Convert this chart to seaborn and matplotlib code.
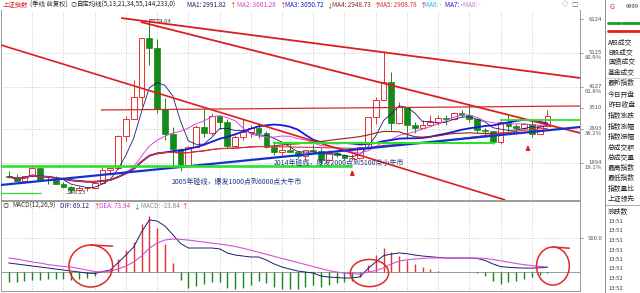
import numpy as np
import pandas as pd
import matplotlib
matplotlib.use("Agg")
import matplotlib.pyplot as plt
import seaborn as sns
from matplotlib.patches import Ellipse

sns.set_style("white")
plt.rcParams['font.family'] = ['Noto Sans CJK SC', 'DejaVu Sans']
plt.rcParams['axes.unicode_minus'] = False

# ---------------- data (quarterly, 2003Q2 .. 2020Q3) ----------------
quarters = [str(p) for p in pd.period_range('2003Q2', '2020Q3', freq='Q')]
open_ = [1510, 1487, 1367, 1497, 1742, 1399, 1396, 1266, 1181, 1080, 1155, 1161, 1299, 1672,
         1752, 2675, 3183, 3820, 5552, 5262, 3473, 2736, 2293, 1821, 2373, 2959, 2779, 3277,
         3109, 2398, 2656, 2808, 2928, 2762, 2359, 2199, 2262, 2225, 2086, 2269, 2237, 1979,
         2175, 2112, 2033, 2048, 2364, 3235, 3748, 4277, 3053, 3539, 3004, 2930, 3005, 3104,
         3223, 3192, 3349, 3307, 3169, 2847, 2821, 2494, 3091, 2979, 2905, 3050, 2750, 2985]
high = [1649, 1563, 1498, 1760, 1783, 1496, 1497, 1329, 1223, 1223, 1191, 1306, 1757, 1757,
        2698, 3274, 4335, 5562, 6124, 5522, 3786, 2953, 2334, 2402, 2997, 3478, 3361, 3306,
        3181, 2702, 3186, 3001, 3067, 2826, 2536, 2478, 2453, 2242, 2274, 2444, 2334, 2270,
        2259, 2146, 2146, 2366, 3239, 3835, 5178, 4572, 3684, 3539, 3097, 3141, 3301, 3301,
        3295, 3391, 3450, 3587, 3220, 2915, 2831, 3129, 3288, 3048, 3069, 3127, 3000, 3458]
low = [1453, 1358, 1307, 1497, 1386, 1259, 1259, 1164, 998, 1052, 1067, 1161, 1283, 1541,
       1720, 2541, 3183, 3563, 4778, 3358, 2566, 1802, 1664, 1814, 2353, 2639, 2712, 2890,
       2319, 2381, 2574, 2661, 2610, 2331, 2134, 2132, 2215, 2029, 1949, 2180, 1849, 1952,
       2079, 1975, 1991, 2023, 2291, 3049, 3747, 2850, 3023, 2638, 2781, 2932, 2990, 3016,
       3017, 3157, 3254, 3091, 2782, 2644, 2449, 2440, 2838, 2733, 2859, 2646, 2743, 2985]
close = [1487, 1367, 1497, 1742, 1399, 1396, 1266, 1181, 1080, 1155, 1161, 1299, 1672, 1752,
         2675, 3183, 3820, 5552, 5262, 3473, 2736, 2293, 1821, 2373, 2959, 2779, 3277, 3109,
         2398, 2656, 2808, 2928, 2762, 2359, 2199, 2262, 2225, 2086, 2269, 2237, 1979, 2175,
         2116, 2033, 2048, 2364, 3235, 3748, 4277, 3053, 3539, 3004, 2930, 3005, 3104, 3223,
         3192, 3349, 3307, 3169, 2847, 2821, 2494, 3091, 2979, 2905, 3050, 2750, 2985, 3269]
dif = [132, 118, 103, 88, 74, 59, 44, 29, 15, 0, -15, -22, 7, 29, 137, 250, 368, 588, 765, 750,
       676, 550, 420, 353, 353, 353, 353, 340, 279, 250, 235, 221, 221, 176, 118, 74, 44, 15, 0,
       -15, -59, -74, -81, -88, -88, -70, 51, 147, 240, 265, 280, 270, 250, 235, 225, 215, 205,
       205, 206, 206, 200, 170, 120, 80, 70, 62, 58, 58, 62, 69.12]
dea = [206, 191, 169, 147, 132, 110, 96, 81, 74, 51, 29, 7, 0, 15, 44, 88, 147, 235, 350, 426,
       471, 485, 480, 470, 455, 440, 425, 410, 395, 375, 350, 320, 290, 260, 230, 200, 170, 140,
       110, 80, 50, 20, 0, -15, -25, -30, 0, 20, 60, 120, 160, 180, 190, 200, 205, 207, 207,
       206, 206, 206, 205, 200, 185, 165, 145, 125, 108, 95, 82, 73.94]
ma_periods = [5, 13, 21, 34, 55]
price_ticks = [6124, 5125, 4127, 3510, 2893, 1894]
price_pcts = ['', '80.9%', '61.8%', '', '38.2%', '19.1%']

# user-drawn trend lines: (quarter index, price) endpoints
trend_lines = [
    ((14.4, 6153), (73.2, 4389), '#dc1e1e', 1.3),
    ((16.9, 6036), (73.2, 2771), '#dc1e1e', 1.3),
    ((-1.0, 5359), (63.6, 800), '#dc1e1e', 1.2),
    ((11.8, 3448), (73.2, 3565), '#d42a2a', 0.9),
    ((-1.0, 1242), (73.2, 2947), '#1530d0', 1.6),
    ((-1.0, 1800), (44.0, 1800), '#2ee02e', 1.9),
    ((-1.0, 1006), (4.1, 1006), '#2ee02e', 0.9),
    ((33.9, 2477), (62.3, 2477), '#2ee02e', 1.5),
    ((62.9, 3153), (73.2, 3153), '#2ee02e', 1.3),
]
arrows = [(44.0, 1624), (66.5, 2359)]
notes = [(20.9, 1330, '2005年碰线，爆发1000点到6000点大牛市'),
         (33.9, 1889, '2014年碰线，爆发2000点到5100点小牛市')]
circles = [(10.5, 88, 5.6, 618), (46.2, -15, 4.9, 400), (69.7, 88, 4.2, 560)]

# ---------------- figure ----------------
W, H = 640, 293
fig = plt.figure(figsize=(6.4, 2.93), dpi=100)
def fx(x): return x / W
def fy(y): return 1 - y / H

ax = fig.add_axes([fx(1), fy(200), fx(580) - fx(1), fy(10) - fy(200)])
axm = fig.add_axes([fx(1), fy(291), fx(580) - fx(1), fy(201) - fy(291)])

XL = (-1.0, 73.17)
ax.set_xlim(*XL)
axm.set_xlim(*XL)
ax.set_ylim(800, 6389)
axm.set_ylim(-279, 1044)

for a in (ax, axm):
    a.set_xticks([])
    a.set_yticks([])
    for s in a.spines.values():
        s.set_color('#9a9a9a')
        s.set_linewidth(0.7)
ax.spines['top'].set_visible(False)

n = len(close)
x = np.arange(n)
O = np.array(open_, float); Hh = np.array(high, float)
L = np.array(low, float); C = np.array(close, float)
RED, GREEN = '#e43232', '#138a1a'

# grid
grid_kw = dict(color='#b8b8b8', lw=0.6, ls=(0, (1, 2)), zorder=0)
year_idx = [i for i, q in enumerate(quarters) if q.endswith('Q1')]
for i in year_idx:
    ax.axvline(i, **grid_kw)
    axm.axvline(i, **grid_kw)
for p in [5125, 4127, 2893, 1894]:
    ax.axhline(p, **grid_kw)
axm.axhline(500, **grid_kw)
axm.axhline(0, color='#8a8a8a', lw=0.6, zorder=1)

# candles
up = C >= O
ax.vlines(x, L, Hh, colors=[RED if u else GREEN for u in up], lw=0.7, zorder=2)
ax.bar(x[up], (C - O)[up], bottom=O[up], width=0.74, facecolor='white',
       edgecolor=RED, linewidth=0.7, zorder=3)
ax.bar(x[~up], (O - C)[~up], bottom=C[~up], width=0.74, color=GREEN,
       edgecolor=GREEN, linewidth=0.5, zorder=3)

# moving averages
ma_styles = [('#1c1c6e', 0.6), ('#e048e0', 0.7), ('#1818d8', 1.3), ('#8c2424', 0.8), ('#e03030', 0.8)]
cs = pd.Series(C)
for w, (col, lw) in zip(ma_periods, ma_styles):
    ma = cs.rolling(w, min_periods=1).mean().values
    sns.lineplot(x=x, y=ma, ax=ax, color=col, linewidth=lw, legend=False, zorder=4)

# trend lines
for (i0, p0), (i1, p1), col, lw in trend_lines:
    ax.plot([i0, i1], [p0, p1], color=col, lw=lw, zorder=5, solid_capstyle='butt')

for i, p in arrows:
    ax.annotate('', xy=(i, p + 130), xytext=(i, p - 120),
                arrowprops=dict(arrowstyle='-|>', color='#e81c1c', lw=1.3, mutation_scale=5),
                zorder=6)
for i, p, t in notes:
    ax.text(i, p, t, fontsize=5.0, color='#1f3a86', va='center', ha='left', zorder=7)

ax.text(18.1, 6065, '6124.04', fontsize=4.3, color='#444444', va='center', ha='left')
ax.text(7.6, 1006, '998.23', fontsize=4.3, color='#444444', va='center', ha='left')
ax.plot([18.0, 19.2], [6124, 6124], color='#444444', lw=0.4)
ax.plot([7.3, 7.9], [998, 998], color='#444444', lw=0.4)

# MACD panel
D = np.array(dif, float); E = np.array(dea, float)
hist = 2 * (D - E)
axm.vlines(x, 0, hist, colors=[RED if h >= 0 else GREEN for h in hist], lw=1.0, zorder=2)
sns.lineplot(x=x, y=D, ax=axm, color='#1c1c70', linewidth=0.7, legend=False, zorder=3)
sns.lineplot(x=x, y=E, ax=axm, color='#d94fd9', linewidth=0.8, legend=False, zorder=3)
for ci, cv, cw, ch in circles:
    axm.add_patch(Ellipse((ci, cv), cw, ch, fill=False, ec='#e02828', lw=1.1, zorder=6))
axm.plot([10.5, 13.3], [398, 380], color='#e02828', lw=1.1)
axm.plot([69.7, 71.8], [368, 350], color='#e02828', lw=1.1)

# right price labels
fs_ax = 4.3
for p, pct in zip(price_ticks, price_pcts):
    ax.annotate(str(p), xy=(1.0, p), xycoords=('axes fraction', 'data'), xytext=(16, 0),
                textcoords='offset points', fontsize=fs_ax, color='#555555', ha='right', va='center',
                annotation_clip=False)
    ax.plot([1.0, 1.006], [p, p], transform=ax.get_yaxis_transform(), color='#777777', lw=0.5, clip_on=False)
    if pct:
        ax.annotate(pct, xy=(1.0, p), xycoords=('axes fraction', 'data'), xytext=(16, -3.4),
                    textcoords='offset points', fontsize=fs_ax, color='#555555', ha='right', va='center',
                    annotation_clip=False)
axm.annotate('500.0', xy=(1.0, 500), xycoords=('axes fraction', 'data'), xytext=(16, 0),
             textcoords='offset points', fontsize=fs_ax, color='#555555', ha='right', va='center',
             annotation_clip=False)
axm.plot([1.0, 1.006], [500, 500], transform=axm.get_yaxis_transform(), color='#777777', lw=0.5, clip_on=False)

# header texts
hy = fy(4.6)
hfs = 4.6
header = [(3, '上证指数', '#e02020'), (30, '(季线 前复权)', '#333333'), (71, '◎', '#666666'),
          (77, '自定均线(5,13,21,34,55,144,233,0)', '#222222'),
          (187, 'MA1: 2991.82', '#1c1c70'), (229, '↑', '#e02020'),
          (237, 'MA2: 3001.28', '#d040d0'), (279, '↑', '#e02020'),
          (285, 'MA3: 3050.72', '#1818d8'), (326, '↓', '#1a8a1a'),
          (332, 'MA4: 2948.73', '#8c2424'), (373, '↑', '#e02020'),
          (378, 'MA5: 2908.78', '#e03030'), (419, '↑', '#e02020'),
          (424, 'MA6: -', '#20b8d8'), (445, 'MA7: -', '#1818d8'), (463, 'MA8: -', '#d070e0'),
          (562, '◇', '#666666'), (571, '□', '#666666')]
for px, t, col in header:
    fig.text(fx(px), hy, t, fontsize=hfs, color=col, va='center', ha='left')

my = fy(206)
macd_hdr = [(3, '◎', '#666666'), (12, 'MACD(12,26,9)', '#333333'), (60, 'DIF: 69.12', '#1c1c70'),
            (93, '↑', '#e02020'), (99, 'DEA: 73.94', '#d040d0'), (133, '↓', '#1a8a1a'),
            (141, 'MACD: -23.64', '#888888'), (181, '↑', '#e02020')]
for px, t, col in macd_hdr:
    fig.text(fx(px), my, t, fontsize=hfs, color=col, va='center', ha='left')

# right info panel
fig.add_artist(plt.Line2D([fx(605), fx(605)], [0, 1], color='#8a8a8a', lw=0.7))
fig.add_artist(plt.Line2D([fx(580), fx(580)], [fy(291), fy(10)], color='#9a9a9a', lw=0.7))
fig.text(fx(610), fy(7), 'G', fontsize=5.2, color='#e02020', va='center')
fig.text(fx(626), fy(7), '9999', fontsize=4.2, color='#333333', va='center')
fig.add_artist(plt.Line2D([fx(608), fx(620)], [fy(23), fy(23)], color='#18a018', lw=2.0))
fig.add_artist(plt.Line2D([fx(622), fx(640)], [fy(23), fy(23)], color='#18a018', lw=2.0))
fig.add_artist(plt.Line2D([fx(608), fx(640)], [fy(31), fy(31)], color='#e02020', lw=2.0))
panel_labels = ['A股成交', 'B股成交', '国债成交', '基金成交', '最新指数', '今日开盘', '昨日收盘',
                '指数涨跌', '指数涨幅', '指数振幅', '总成交额', '总成交量', '最高指数', '最低指数',
                '指数量比', '上证领先']
panel_y = [42, 52, 62, 72, 83, 95, 105, 116, 127, 137, 147, 157, 168, 178, 189, 199]
for t, yy in zip(panel_labels, panel_y):
    fig.text(fx(608), fy(yy), t, fontsize=4.9, color='#222222', va='center', ha='left')
fig.add_artist(plt.Line2D([fx(606), 1], [fy(78), fy(78)], color='#bbbbbb', lw=0.5))
fig.add_artist(plt.Line2D([fx(606), 1], [fy(205), fy(205)], color='#999999', lw=0.6))
fig.text(fx(608), fy(212), '涨跌数', fontsize=4.9, color='#222222', va='center', ha='left')
times = ['13:51', '13:51', '13:51', '13:51', '13:51', '13:51', '13:52', '13:52']
for k, t in enumerate(times):
    fig.text(fx(608), fy(221.5 + k * 9.5), t, fontsize=4.2, color='#333333', va='center', ha='left')

fig.savefig('out.png', dpi=100, facecolor='white')
